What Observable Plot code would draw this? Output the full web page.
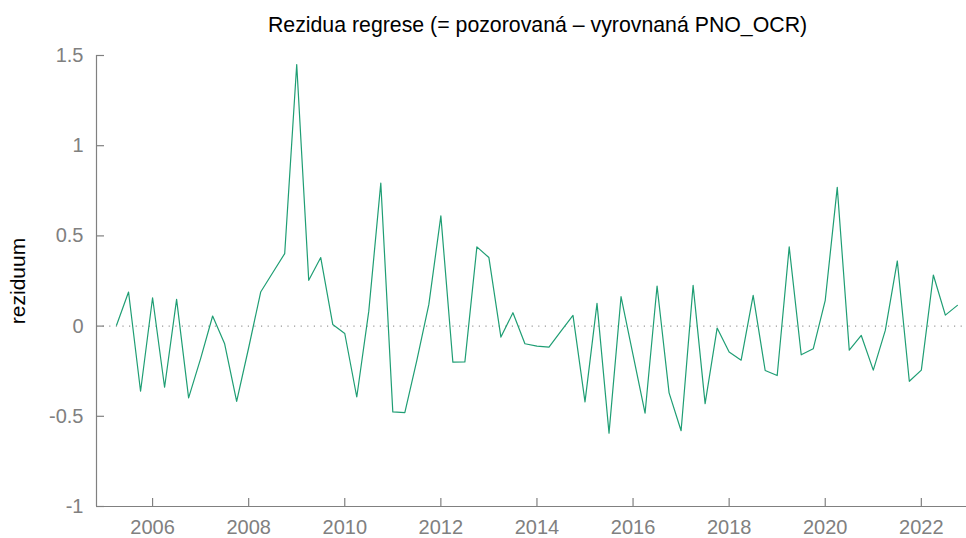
<!DOCTYPE html>
<html>
<head>
<meta charset="utf-8">
<script src="https://cdn.jsdelivr.net/npm/d3@7"></script>
<script src="https://cdn.jsdelivr.net/npm/@observablehq/plot@0.6"></script>
<style>
  html, body { margin: 0; padding: 0; background: #fff; }
</style>
</head>
<body>
<div id="chart"></div>
<script>
// Quarterly periods: 2005 Q2 .. 2022 Q4
const startYear = 2005, startQuarter = 2, nPeriods = 71;
const periods = [];
for (let i = 0; i < nPeriods; i++) {
  const q0 = startQuarter - 1 + i;
  periods.push({year: startYear + Math.floor(q0 / 4), quarter: (q0 % 4) + 1});
}

// Residuals
const residuals = [
  0.005, 0.189, -0.361, 0.157, -0.339, 0.148, -0.398, -0.18, 0.056, -0.098,
  -0.417, -0.12, 0.189, 0.296, 0.402, 1.45, 0.254, 0.38, 0.009, -0.041,
  -0.393, 0.083, 0.793, -0.476, -0.48, -0.19, 0.12, 0.611, -0.2, -0.198,
  0.439, 0.38, -0.061, 0.074, -0.098, -0.111, -0.117, -0.028, 0.059, -0.42,
  0.126, -0.593, 0.163, -0.159, -0.483, 0.222, -0.37, -0.58, 0.226, -0.43,
  -0.011, -0.144, -0.189, 0.170, -0.246, -0.274, 0.439, -0.159, -0.126, 0.143,
  0.769, -0.133, -0.052, -0.244, -0.024, 0.361, -0.306, -0.244, 0.283, 0.061, 0.115
];

const xTicks = [2006, 2008, 2010, 2012, 2014, 2016, 2018, 2020, 2022];
const yTicks = [-1, -0.5, 0, 0.5, 1, 1.5];
const xDomain = [2004.833, 2022.94];
const yDomain = [-1, 1.5];
const titleText = "Rezidua regrese (= pozorovaná – vyrovnaná PNO_OCR)";
const yLabelText = "reziduum";

const data = periods.map((p, i) => ({t: p.year + (p.quarter - 1) / 4, v: residuals[i]}));

const W = 966, H = 538;
const mL = 96, mR = 0, mT = 55, mB = 32;
const frameW = W - mL - mR, frameH = H - mT - mB;
const gray = "#808080";

const chart = Plot.plot({
  width: W,
  height: H,
  marginLeft: mL,
  marginRight: mR,
  marginTop: mT,
  marginBottom: mB,
  style: {fontFamily: "'Liberation Sans', Arial, Helvetica, sans-serif", fontSize: "20px", background: "#fff"},
  x: {domain: xDomain, axis: null},
  y: {domain: yDomain, axis: null},
  marks: [
    Plot.ruleY([0], {stroke: "#999", strokeWidth: 1.2, strokeDasharray: "1.2,5.4"}),
    Plot.ruleY([yDomain[0]], {stroke: gray, strokeWidth: 1.2}),
    Plot.ruleX([xDomain[0]], {stroke: gray, strokeWidth: 1.2}),
    Plot.tickX(xTicks, {x: d => d, insetTop: frameH - 8, stroke: gray, strokeWidth: 1.2}),
    Plot.tickY(yTicks, {y: d => d, insetRight: frameW - 8, stroke: gray, strokeWidth: 1.2}),
    Plot.axisX({ticks: xTicks, tickSize: 0, tickPadding: 13, fontSize: 20, color: gray, tickFormat: d => String(d), label: null}),
    Plot.axisY({ticks: yTicks, tickSize: 0, tickPadding: 13, fontSize: 20, color: gray, tickFormat: d => String(d), label: null}),
    Plot.line(data, {x: "t", y: "v", stroke: "#1f9e74", strokeWidth: 1.2}),
    Plot.text([titleText], {text: d => d, frameAnchor: "top", lineAnchor: "middle", dx: 6, dy: -30, fontSize: 21.3, fill: "#000"}),
    Plot.text([yLabelText], {text: d => d, frameAnchor: "left", textAnchor: "middle", lineAnchor: "middle", dx: -78, rotate: -90, fontSize: 21, fill: "#000"})
  ]
});
document.getElementById("chart").appendChild(chart);
</script>
</body>
</html>
